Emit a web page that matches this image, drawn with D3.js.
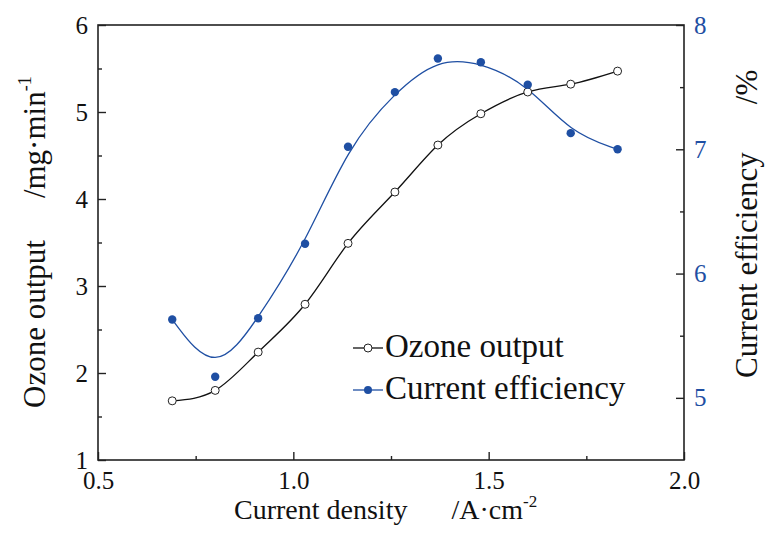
<!DOCTYPE html>
<html>
<head>
<meta charset="utf-8">
<script src="https://cdn.jsdelivr.net/npm/d3@7"></script>
<style>
	body { margin: 0; background: #fff; }
</style>
</head>
<body>
<svg id="chart" width="765" height="538"></svg>
<script>
// values
var currentDensity = [ 0.69, 0.80, 0.91, 1.03, 1.14, 1.26, 1.37, 1.48, 1.60, 1.71, 1.83 ];
var ozoneOutput = [ 1.68, 1.80, 2.24, 2.79, 3.49, 4.08, 4.62, 4.98, 5.23, 5.32, 5.47 ];
var currentEfficiency = [ 5.63, 5.17, 5.64, 6.24, 7.02, 7.46, 7.73, 7.70, 7.52, 7.13, 7.00 ];

var xTicks = [ 0.5, 1.0, 1.5, 2.0 ];
var xMinorTicks = [ 0.75, 1.25, 1.75 ];
var leftTicks = [ 1, 2, 3, 4, 5, 6 ];
var leftMinorTicks = [ 1.5, 2.5, 3.5, 4.5, 5.5 ];
var rightTicks = [ 5, 6, 7, 8 ];
var rightMinorTicks = [ 5.5, 6.5, 7.5 ];

var seriesNames = [ "Ozone output", "Current efficiency" ];

var serif = "Liberation Serif";
var blue = "#1f4fa3";
var svg = d3.select("#chart");
var plotLeft = 98, plotRight = 684, plotTop = 25, plotBottom = 460;

var x = d3.scaleLinear().domain([ 0.5, 2.0 ]).range([ plotLeft, plotRight ]);
var yL = d3.scaleLinear().domain([ 1, 6 ]).range([ plotBottom, plotTop ]);
var yR = d3.scaleLinear().domain([ 4.5, 8 ]).range([ plotBottom, plotTop ]);

function drawAxis(axis, tx, ty, color) {
	var g = svg.append("g").attr("transform", "translate(" + tx + "," + ty + ")").call(axis);
	g.attr("font-family", serif);
	g.select(".domain").remove();
	g.selectAll("line").attr("stroke", "#222").attr("stroke-width", 1.4);
	g.selectAll("text").attr("font-size", 25).attr("fill", color || "#111")
		.style("font-family", serif);
	return g;
}

// bottom axis
drawAxis(d3.axisBottom(x).tickValues(xTicks).tickSize(-8).tickPadding(11)
	.tickFormat(d3.format(".1f")), 0, plotBottom);
drawAxis(d3.axisBottom(x).tickValues(xMinorTicks).tickSize(-4).tickFormat(""), 0, plotBottom);
// left axis
drawAxis(d3.axisLeft(yL).tickValues(leftTicks).tickSize(-8).tickPadding(10)
	.tickFormat(d3.format("d")), plotLeft, 0);
drawAxis(d3.axisLeft(yL).tickValues(leftMinorTicks).tickSize(-4).tickFormat(""), plotLeft, 0);
// right axis
drawAxis(d3.axisRight(yR).tickValues(rightTicks).tickSize(-8).tickPadding(10)
	.tickFormat(d3.format("d")), plotRight, 0, blue);
drawAxis(d3.axisRight(yR).tickValues(rightMinorTicks).tickSize(-4).tickFormat(""), plotRight, 0);

// frame
svg.append("rect").attr("x", plotLeft).attr("y", plotTop).attr("width", plotRight - plotLeft)
	.attr("height", plotBottom - plotTop).attr("fill", "none").attr("stroke", "#222")
	.attr("stroke-width", 1.6);

var idx = d3.range(currentDensity.length);

var ozoneLine = d3.line().curve(d3.curveNatural)
	.x(function(i) { return x(currentDensity[i]); })
	.y(function(i) { return yL(ozoneOutput[i]); });
var effLine = d3.line().curve(d3.curveBasis)
	.x(function(i) { return x(currentDensity[i]); })
	.y(function(i) { return yR(currentEfficiency[i]); });

svg.append("path").attr("d", ozoneLine(idx)).attr("fill", "none")
	.attr("stroke", "#111").attr("stroke-width", 1.3);
svg.append("path").attr("d", effLine(idx)).attr("fill", "none")
	.attr("stroke", blue).attr("stroke-width", 1.3);

svg.selectAll(".ozonePoint").data(idx).enter().append("circle")
	.attr("class", "ozonePoint")
	.attr("cx", function(i) { return x(currentDensity[i]); })
	.attr("cy", function(i) { return yL(ozoneOutput[i]); })
	.attr("r", 4).attr("fill", "#fff").attr("stroke", "#222").attr("stroke-width", 1);
svg.selectAll(".effPoint").data(idx).enter().append("circle")
	.attr("class", "effPoint")
	.attr("cx", function(i) { return x(currentDensity[i]); })
	.attr("cy", function(i) { return yR(currentEfficiency[i]); })
	.attr("r", 4.2).attr("fill", blue);

// legend
var legend = svg.append("g").attr("transform", "translate(353,348)");
seriesNames.forEach(function(name, k) {
	var row = legend.append("g").attr("transform", "translate(0," + (k * 42) + ")");
	var c = k === 0 ? "#111" : blue;
	row.append("line").attr("x1", 0).attr("x2", 30).attr("stroke", c).attr("stroke-width", 1.3);
	row.append("circle").attr("cx", 15).attr("r", 4)
		.attr("fill", k === 0 ? "#fff" : blue).attr("stroke", k === 0 ? "#222" : "none");
	row.append("text").attr("x", 32).attr("y", 9).attr("font-size", 33).attr("fill", "#111")
		.style("font-family", serif).text(name);
});

// axis titles
var xt = svg.append("text").attr("x", 234).attr("y", 519).attr("font-size", 28)
	.attr("fill", "#111").style("font-family", serif);
xt.append("tspan").text("Current density");
xt.append("tspan").attr("dx", 44).text("/A");
xt.append("tspan").text("·");
xt.append("tspan").text("cm");
xt.append("tspan").attr("dy", -12).attr("font-size", 17).text("-2");

var lt = svg.append("text").attr("transform", "translate(45,408) rotate(-90)")
	.attr("font-size", 31).attr("fill", "#111").style("font-family", serif);
lt.append("tspan").text("Ozone output");
lt.append("tspan").attr("dx", 42).text("/mg");
lt.append("tspan").text("·");
lt.append("tspan").text("min");
lt.append("tspan").attr("dy", -14).attr("font-size", 18).text("-1");

var rt = svg.append("text").attr("transform", "translate(757,378) rotate(-90)")
	.attr("font-size", 31).attr("fill", "#111").style("font-family", serif);
rt.append("tspan").text("Current efficiency");
rt.append("tspan").attr("dx", 48).text("/%");
</script>
</body>
</html>
